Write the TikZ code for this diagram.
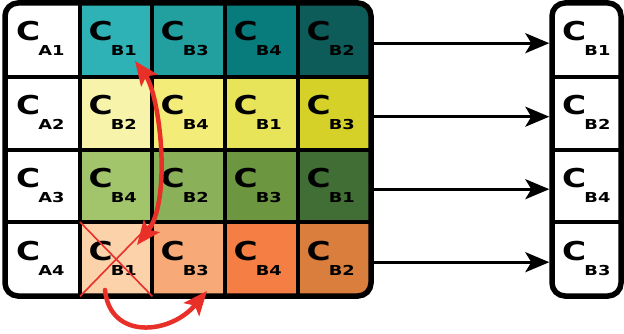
\documentclass[tikz,border=0pt]{standalone}
\usepackage{fontspec}
\setmainfont{DejaVu Sans}
\usetikzlibrary{arrows.meta,calc}
\definecolor{t1}{RGB}{47,178,181}
\definecolor{t2}{RGB}{34,160,160}
\definecolor{t3}{RGB}{8,124,124}
\definecolor{t4}{RGB}{14,92,90}
\definecolor{y1}{RGB}{247,243,170}
\definecolor{y2}{RGB}{243,236,120}
\definecolor{y3}{RGB}{232,228,90}
\definecolor{y4}{RGB}{214,209,40}
\definecolor{g1}{RGB}{162,197,108}
\definecolor{g2}{RGB}{138,176,90}
\definecolor{g3}{RGB}{108,150,64}
\definecolor{g4}{RGB}{64,110,53}
\definecolor{o1}{RGB}{251,210,170}
\definecolor{o2}{RGB}{247,170,120}
\definecolor{o3}{RGB}{244,126,68}
\definecolor{o4}{RGB}{217,126,61}
\definecolor{myred}{RGB}{232,48,40}
\newcommand{\clab}[1]{\scalebox{1.26}[1]{\fontsize{26}{26}\selectfont\bfseries C}\hspace{-1.8pt}\raisebox{-15pt}{\scalebox{1.3}[1]{\fontsize{13.7}{13.7}\selectfont\bfseries #1}}}
\tikzset{
  cellbox/.style={rectangle, draw=none, inner sep=0pt, anchor=north west},
  celltext/.style={anchor=base west, inner sep=0pt},
  mapline/.style={line width=2.8pt, -{Stealth[length=24pt,width=20pt,inset=6pt]}},
  redarrow/.style={myred, line width=4.5pt, line cap=round},
  redtip/.tip={Stealth[length=24pt,width=20pt,inset=5pt]},
}
\begin{document}
\begin{tikzpicture}[x=1pt,y=-1pt]
\useasboundingbox (0,0) rectangle (624,334);
% cells
\def\xs{{5,80,152,225,298,371}}
\def\ys{{3,77,150,222,296}}
\begin{scope}
\clip[rounded corners=13pt] (5,3) rectangle (371,296);
\foreach \r/\cols in {1/{white,t1,t2,t3,t4},2/{white,y1,y2,y3,y4},3/{white,g1,g2,g3,g4},4/{white,o1,o2,o3,o4}}{
  \foreach \c [count=\ci] in \cols {
    \pgfmathsetmacro{\xa}{\xs[\ci-1]}
    \pgfmathsetmacro{\xb}{\xs[\ci]}
    \pgfmathsetmacro{\ya}{\ys[\r-1]}
    \pgfmathsetmacro{\yb}{\ys[\r]}
    \fill[\c] (\xa,\ya) rectangle (\xb,\yb);
  }
}
\end{scope}
% named cell nodes
\foreach \r in {1,...,4}{
  \foreach \ci in {1,...,5}{
    \pgfmathsetmacro{\xa}{\xs[\ci-1]}
    \pgfmathsetmacro{\xb}{\xs[\ci]}
    \pgfmathsetmacro{\ya}{\ys[\r-1]}
    \pgfmathsetmacro{\yb}{\ys[\r]}
    \pgfmathsetmacro{\w}{\xb-\xa}
    \pgfmathsetmacro{\h}{\yb-\ya}
    \node[cellbox, minimum width=\w pt, minimum height=\h pt] (m\r\ci) at (\xa,\ya) {};
  }
}
% labels
\foreach \r/\labs in {1/{A1,B1,B3,B4,B2},2/{A2,B2,B4,B1,B3},3/{A3,B4,B2,B3,B1},4/{A4,B1,B3,B4,B2}}{
  \foreach \l [count=\ci] in \labs {
    \pgfmathsetmacro{\dx}{\ci==1 ? 11 : 8.4}
    \node[celltext] (t\r\ci) at ($(m\r\ci.north west)+(\dx,38)$) {\clab{\l}};
  }
}
% grid lines
\foreach \x in {80,152,225,298}{\draw[line width=3.2pt] (\x,3) -- (\x,296);}
\foreach \y in {77,150,222}{\draw[line width=3.2pt] (5,\y) -- (371,\y);}
\draw[line width=5.5pt, rounded corners=13pt] (5,3) rectangle (371,296);
% right box
\foreach \r/\y/\h/\l in {1/3/74/B1,2/77/73/B2,3/150/72/B4,4/222/74/B3}{
  \node[cellbox, minimum width=69pt, minimum height=\h pt] (r\r) at (552,\y) {};
  \node[celltext] (rt\r) at ($(r\r.north west)+(10,38)$) {\clab{\l}};
}
\foreach \y in {77,150,222}{\draw[line width=3.2pt] (552,\y) -- (621,\y);}
\draw[line width=5.5pt, rounded corners=13pt] (552,3) rectangle (621,296);
% mapping arrows
\foreach \r in {1,...,4}{
  \draw[mapline] ($(m\r5.east)+(2.7,3)$) -- ($(r\r.west)+(-2.7,3)$);
}
% red cross
\draw[myred, line width=1.6pt] (m42.north west) -- (m42.south east);
\draw[myred, line width=1.6pt] (m42.north east) -- (m42.south west);
% red arrows
\coordinate (ra) at (137,245);
\coordinate (rb) at (135,61);
\draw[redarrow, redtip-redtip] (ra) .. controls (172,200) and (160,95) .. (rb);
\coordinate (rc) at (105,290);
\coordinate (rd) at (207,291);
\draw[redarrow, -redtip] (rc) .. controls (110,340) and (170,335) .. (rd);
\end{tikzpicture}
\end{document}
